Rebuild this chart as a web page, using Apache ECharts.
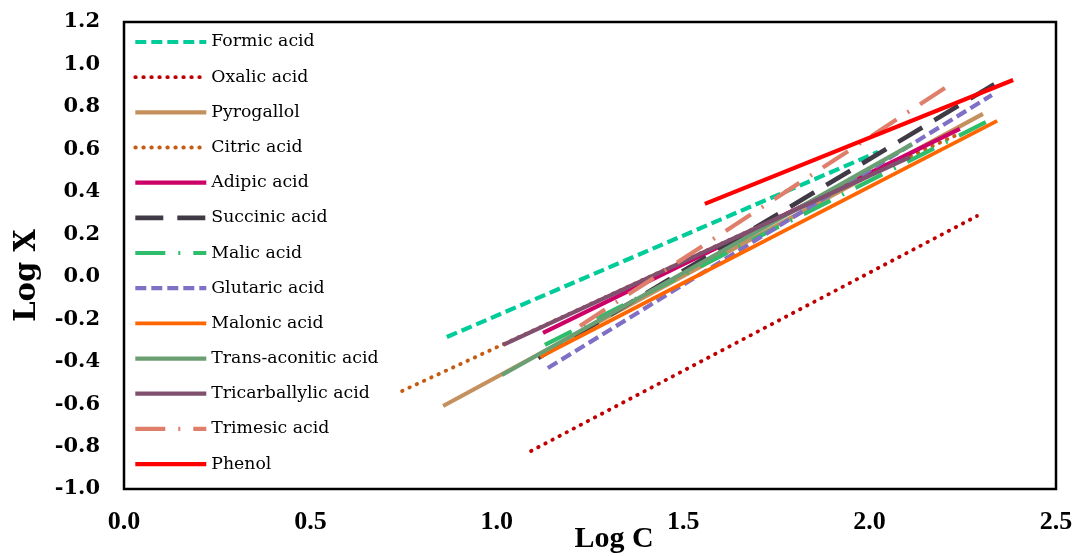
<!DOCTYPE html>
<html>
<head>
<meta charset="utf-8">
<script src="https://cdn.jsdelivr.net/npm/echarts@6/dist/echarts.min.js"></script>
<style>html,body{margin:0;padding:0;background:#fff}#c{width:1078px;height:556px}</style>
</head>
<body>
<div id="c"></div>
<script>
// Series names (legend order)
const seriesNames = ["Formic acid","Oxalic acid","Pyrogallol","Citric acid","Adipic acid","Succinic acid","Malic acid","Glutaric acid","Malonic acid","Trans-aconitic acid","Tricarballylic acid","Trimesic acid","Phenol"];
// Endpoints [logC, logX]
const formic        = [[0.866,-0.284],[2.023,0.588]];
const oxalic        = [[1.092,-0.821],[2.288,0.286]];
const pyrogallol    = [[0.856,-0.609],[2.304,0.767]];
const citric        = [[0.746,-0.538],[2.245,0.677]];
const adipic        = [[1.124,-0.265],[2.242,0.696]];
const succinic      = [[1.111,-0.383],[2.344,0.917]];
const malic         = [[1.129,-0.321],[2.318,0.734]];
const glutaric      = [[1.137,-0.430],[2.328,0.856]];
const malonic       = [[1.116,-0.378],[2.342,0.734]];
const transAconitic = [[1.014,-0.463],[2.114,0.625]];
const tricarballylic= [[1.017,-0.321],[2.108,0.564]];
const trimesic      = [[1.223,-0.232],[2.202,0.889]];
const phenol        = [[1.558,0.343],[2.385,0.927]];
const seriesData = [formic,oxalic,pyrogallol,citric,adipic,succinic,malic,glutaric,malonic,transAconitic,tricarballylic,trimesic,phenol];

const colors = ["#00cc99","#c00000","#c4915e","#c55a11","#cc0066","#3f3a45","#2ebd6b","#7f70c6","#ff6600","#6a9f73","#80506e","#df7f6b","#ff0000"];
const dashTypes = [[11,5],[0.5,7.5],'solid',[0.5,7.5],'solid',[28,14],[30,13,2,13],[11,5],'solid','solid','solid',[30,13,2,13],'solid'];
const caps = ['butt','round','butt','round','butt','butt','butt','butt','butt','butt','butt','butt','butt'];
const widths = [4.2,3.8,4.2,3.8,4.2,4.6,4.2,4.2,3.8,4.2,4.2,4.2,4.2];

const chart = echarts.init(document.getElementById('c'), null, {renderer:'canvas'});
const series = seriesNames.map((n,i)=>({
  name:n, type:'line', data:seriesData[i], showSymbol:false, symbol:'none',
  lineStyle:{color:colors[i], width:widths[i], type:dashTypes[i], cap:caps[i]},
  itemStyle:{color:colors[i]}, animation:false
}));
const legendData = seriesNames.map((n,i)=>({name:n, lineStyle:{width:widths[i]}}));
const fmt = v => Math.abs(v) < 1e-9 ? '0.0' : v.toFixed(1);
chart.setOption({
  backgroundColor:'#fff',
  animation:false,
  grid:{left:124,right:22,top:22,bottom:67,show:true,borderColor:'#000',borderWidth:2.5,backgroundColor:'transparent',outerBoundsMode:'none',containLabel:false},
  legend:{
    orient:'vertical', left:133, top:32, padding:0,
    itemWidth:71, itemHeight:14, itemGap:15.17,
    itemStyle:{opacity:0},
    lineStyle:{width:4.2},
    textStyle:{fontFamily:'DejaVu Serif', fontSize:17.3, color:'#000', lineHeight:20},
    data:legendData
  },
  xAxis:{
    type:'value', min:0, max:2.5, interval:0.5,
    name:'Log C', nameLocation:'middle', nameGap:35, nameMoveOverlap:false,
    nameTextStyle:{fontFamily:'Liberation Serif', fontWeight:'bold', fontSize:30, color:'#000', padding:[0,0,0,48]},
    axisLine:{show:false}, axisTick:{show:false}, splitLine:{show:false},
    axisLabel:{margin:20, formatter:fmt, fontFamily:'Liberation Serif', fontWeight:'bold', fontSize:26, color:'#000'}
  },
  yAxis:{
    type:'value', min:-1, max:1.2, interval:0.2,
    name:'Log X', nameLocation:'middle', nameGap:82, nameRotate:90, nameMoveOverlap:false,
    nameTextStyle:{fontFamily:'DejaVu Serif', fontWeight:'bold', fontSize:29, color:'#000', padding:[0,40,0,0]},
    axisLine:{show:false}, axisTick:{show:false}, splitLine:{show:false},
    axisLabel:{margin:24, formatter:fmt, fontFamily:'DejaVu Serif', fontWeight:'bold', fontSize:21, color:'#000'}
  },
  series:series
});
</script>
</body>
</html>
